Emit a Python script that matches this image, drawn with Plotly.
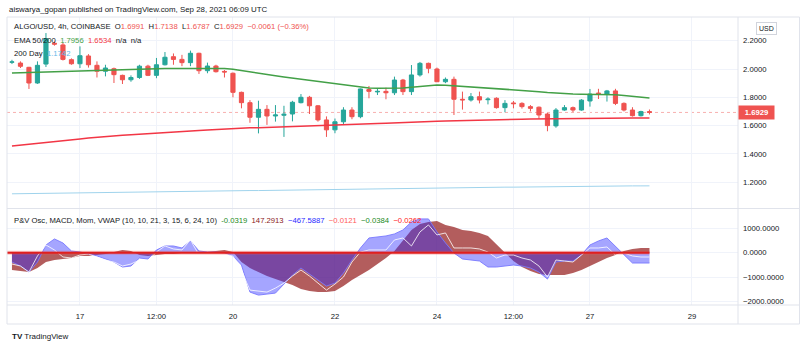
import plotly.graph_objects as go
import pandas as pd

# ---------------- data ----------------
DATES = pd.date_range("2021-09-15 16:00", periods=76, freq="4h")

OPEN = [2.048, 2.042, 2.012, 1.901, 2.035, 2.182, 2.170, 2.066, 2.037, 2.092,
        2.026, 1.984, 2.002, 1.955, 1.924, 1.940, 2.020, 1.955, 2.030, 2.087,
        2.068, 2.045, 2.111, 1.988, 2.021, 1.983, 1.970, 1.835, 1.762, 1.659,
        1.715, 1.668, 1.673, 1.682, 1.762, 1.800, 1.740, 1.640, 1.570, 1.627,
        1.710, 1.663, 1.855, 1.838, 1.842, 1.832, 1.922, 1.840, 1.958, 2.040,
        2.000, 1.910, 1.927, 1.786, 1.781, 1.804, 1.783, 1.793, 1.727, 1.760,
        1.757, 1.734, 1.730, 1.682, 1.598, 1.710, 1.727, 1.710, 1.774, 1.830,
        1.823, 1.845, 1.757, 1.710, 1.670, 1.6991]
HIGH = [2.065, 2.054, 2.015, 2.054, 2.254, 2.195, 2.185, 2.075, 2.160, 2.105,
        2.054, 2.030, 2.010, 1.960, 1.955, 2.030, 2.030, 2.078, 2.120, 2.110,
        2.100, 2.130, 2.115, 2.045, 2.030, 1.993, 1.975, 1.840, 1.780, 1.776,
        1.745, 1.745, 1.740, 1.775, 1.823, 1.810, 1.745, 1.665, 1.650, 1.730,
        1.730, 1.862, 1.880, 1.863, 1.868, 1.946, 1.930, 2.028, 2.050, 2.045,
        2.010, 1.940, 1.946, 1.840, 1.830, 1.840, 1.800, 1.800, 1.780, 1.774,
        1.765, 1.745, 1.735, 1.690, 1.724, 1.745, 1.735, 1.787, 1.859, 1.860,
        1.852, 1.860, 1.764, 1.730, 1.705, 1.7138]
LOW = [2.035, 2.007, 1.859, 1.895, 2.014, 2.165, 2.060, 2.030, 2.007, 2.010,
       1.940, 1.948, 1.901, 1.894, 1.910, 1.930, 1.950, 1.935, 2.025, 2.030,
       2.020, 2.020, 1.965, 1.970, 1.975, 1.940, 1.800, 1.722, 1.620, 1.545,
       1.605, 1.628, 1.520, 1.630, 1.757, 1.682, 1.628, 1.520, 1.546, 1.604,
       1.645, 1.652, 1.793, 1.816, 1.786, 1.816, 1.816, 1.816, 1.946, 1.970,
       1.908, 1.900, 1.675, 1.713, 1.770, 1.757, 1.750, 1.720, 1.694, 1.722,
       1.720, 1.700, 1.647, 1.560, 1.585, 1.705, 1.695, 1.705, 1.734, 1.788,
       1.770, 1.745, 1.700, 1.664, 1.664, 1.6787]
CLOSE = [2.050, 2.019, 1.901, 2.026, 2.215, 2.176, 2.068, 2.037, 2.094, 2.030,
         1.984, 2.007, 1.960, 1.924, 1.940, 2.020, 1.955, 2.030, 2.083, 2.068,
         2.045, 2.111, 1.988, 2.021, 1.981, 1.979, 1.835, 1.762, 1.659, 1.715,
         1.668, 1.675, 1.680, 1.765, 1.800, 1.740, 1.640, 1.570, 1.627, 1.710,
         1.663, 1.859, 1.842, 1.842, 1.832, 1.922, 1.840, 1.958, 2.040, 2.005,
         1.910, 1.927, 1.786, 1.782, 1.804, 1.781, 1.787, 1.727, 1.757, 1.755,
         1.734, 1.722, 1.675, 1.600, 1.710, 1.727, 1.710, 1.780, 1.823, 1.826,
         1.845, 1.757, 1.710, 1.670, 1.699, 1.6929]

EMA50 = [1.972, 1.974, 1.976, 1.978, 1.980, 1.982, 1.984, 1.986, 1.988, 1.990,
         1.992, 1.994, 1.995, 1.997, 1.998, 2.000, 2.001, 2.002, 2.003, 2.004,
         2.004, 2.005, 2.005, 2.005, 2.005, 2.004, 1.998, 1.990, 1.980, 1.971,
         1.962, 1.953, 1.944, 1.936, 1.929, 1.921, 1.912, 1.902, 1.893, 1.885,
         1.877, 1.870, 1.866, 1.864, 1.863, 1.863, 1.866, 1.871, 1.878, 1.884,
         1.887, 1.886, 1.882, 1.878, 1.875, 1.872, 1.868, 1.863, 1.858, 1.854,
         1.849, 1.845, 1.840, 1.834, 1.829, 1.826, 1.823, 1.821, 1.821, 1.821,
         1.821, 1.818, 1.812, 1.806, 1.800, 1.7956]
EMA200 = [1.455, 1.462, 1.469, 1.476, 1.482, 1.488, 1.494, 1.500, 1.506, 1.512,
          1.518, 1.523, 1.528, 1.532, 1.536, 1.539, 1.542, 1.545, 1.548, 1.552,
          1.556, 1.560, 1.565, 1.569, 1.573, 1.577, 1.580, 1.582, 1.584, 1.585,
          1.587, 1.588, 1.589, 1.591, 1.592, 1.594, 1.595, 1.597, 1.599, 1.602,
          1.605, 1.608, 1.611, 1.614, 1.617, 1.620, 1.622, 1.624, 1.626, 1.628,
          1.630, 1.632, 1.634, 1.636, 1.637, 1.638, 1.640, 1.641, 1.642, 1.643,
          1.645, 1.646, 1.647, 1.648, 1.649, 1.650, 1.650, 1.651, 1.651, 1.652,
          1.652, 1.652, 1.653, 1.653, 1.653, 1.6534]
DAY200 = [1.118, 1.119, 1.120, 1.121, 1.121, 1.122, 1.123, 1.124, 1.125, 1.125,
          1.126, 1.127, 1.128, 1.129, 1.129, 1.130, 1.131, 1.132, 1.133, 1.133,
          1.134, 1.135, 1.136, 1.137, 1.137, 1.138, 1.139, 1.140, 1.141, 1.141,
          1.142, 1.143, 1.144, 1.145, 1.145, 1.146, 1.147, 1.148, 1.149, 1.149,
          1.150, 1.151, 1.152, 1.153, 1.153, 1.154, 1.155, 1.156, 1.157, 1.157,
          1.158, 1.159, 1.160, 1.161, 1.161, 1.162, 1.163, 1.164, 1.165, 1.165,
          1.166, 1.167, 1.168, 1.169, 1.169, 1.170, 1.171, 1.171, 1.172, 1.172,
          1.173, 1.173, 1.173, 1.174, 1.174, 1.1742]

# oscillator pane series
OSC_BLUE = [-380, -545, -790, -380, 315, 562, 398, 70, 30, -53,
            -135, -258, -381, -586, -545, -217, -258, 111, 275, 275,
            193, 480, 70, 29, 29, -12, -135, -504, -1611, -1734,
            -1693, -1652, -1283, -914, -627, -873, -1119, -1365, -1242, -832,
            -299, 193, 603, 644, 685, 767, 931, 1259, 1382, 1382,
            849, 398, -12, -258, -299, -340, -586, -586, -545, -504,
            -545, -627, -791, -1078, -381, -340, -340, -94, 316, 480,
            603, 275, -94, -422, -422, -422]
OSC_BROWN = [-709, -750, -791, -627, -381, -299, -258, -217, -135, -135,
             -94, -53, 29, 111, 70, -94, -135, -94, -53, -53,
             -12, 29, -12, 29, 70, 111, 29, -381, -627, -791,
             -955, -1078, -1201, -1324, -1488, -1570, -1611, -1611, -1570, -1365,
             -1119, -914, -709, -463, -217, 70, 521, 931, 1177, 1259,
             1300, 1136, 1054, 931, 890, 808, 685, 357, -12, -340,
             -586, -750, -873, -914, -914, -914, -832, -709, -545, -381,
             -217, -94, 70, 152, 193, 193]
OSC_WHITE = [-463, -545, -791, -135, 316, 111, -176, -217, -94, -53,
             -176, -299, -381, -545, -463, -299, -340, 29, 275, 152,
             111, 521, -94, -12, -53, -53, -135, -709, -1529, -1570,
             -1611, -1447, -1242, -955, -709, -955, -1242, -1529, -1283, -996,
             -381, 29, 111, 111, 111, 521, 603, 275, 849, 1136,
             726, 808, 193, 193, 193, 152, 29, -217, -94, -94,
             -217, -299, -545, -996, -299, -340, -381, -94, 193, 193,
             234, -94, -12, -135, -176, -176]

LAST_PRICE = 1.6929
PRICE_TICKS = [1.2, 1.4, 1.6, 1.8, 2.0, 2.2]
OSC_TICKS = [1000, 0, -1000, -2000]
TIME_TICKS = ["2021-09-17 00:00", "2021-09-18 12:00", "2021-09-20 00:00", "2021-09-22 00:00",
              "2021-09-24 00:00", "2021-09-25 12:00", "2021-09-27 00:00", "2021-09-29 00:00"]
TIME_LABELS = ["17", "12:00", "20", "22", "24", "12:00", "27", "29"]

# ---------------- figure ----------------
W, H = 800, 348
ML, MR, MT, MB = 7, 62, 17, 43
PW = W - ML - MR
PH = H - MT - MB
FONT = "Liberation Sans"
TXT = "#131722"
GRID = "#f0f3fa"
BORDER = "#e0e3eb"


def px(x):
    return (x - ML) / PW


def py(y):
    return (H - MB - y) / PH


fig = go.Figure()

fig.add_trace(go.Candlestick(
    x=DATES, open=OPEN, high=HIGH, low=LOW, close=CLOSE,
    increasing=dict(line=dict(color="#26a69a", width=1), fillcolor="#26a69a"),
    decreasing=dict(line=dict(color="#ef5350", width=1), fillcolor="#ef5350"),
    whiskerwidth=0, showlegend=False, hoverinfo="skip", xaxis="x", yaxis="y"))

fig.add_trace(go.Scatter(x=DATES, y=DAY200, mode="lines",
                         line=dict(color="#9fd3ec", width=1), showlegend=False,
                         xaxis="x", yaxis="y", hoverinfo="skip"))
fig.add_trace(go.Scatter(x=DATES, y=EMA200, mode="lines",
                         line=dict(color="#f23645", width=1.5), showlegend=False,
                         xaxis="x", yaxis="y", hoverinfo="skip"))
fig.add_trace(go.Scatter(x=DATES, y=EMA50, mode="lines",
                         line=dict(color="#43a047", width=1.5), showlegend=False,
                         xaxis="x", yaxis="y", hoverinfo="skip"))

# oscillator
fig.add_trace(go.Scatter(x=DATES, y=OSC_BROWN, mode="lines", fill="tozeroy",
                         fillcolor="rgba(150,30,30,0.72)",
                         line=dict(color="rgba(150,30,30,0.0)", width=0),
                         showlegend=False, xaxis="x", yaxis="y2", hoverinfo="skip"))
fig.add_trace(go.Scatter(x=DATES, y=OSC_BLUE, mode="lines", fill="tozeroy",
                         fillcolor="rgba(40,40,255,0.42)",
                         line=dict(color="rgba(120,120,255,0.9)", width=1),
                         showlegend=False, xaxis="x", yaxis="y2", hoverinfo="skip"))
fig.add_trace(go.Scatter(x=DATES, y=OSC_WHITE, mode="lines",
                         line=dict(color="rgba(255,255,255,0.8)", width=1),
                         showlegend=False, xaxis="x", yaxis="y2", hoverinfo="skip"))

x_start = "2021-09-15 13:40"
x_end = "2021-09-29 21:40"

shapes = []
# zero line of oscillator
shapes.append(dict(type="line", xref="x", yref="y2", x0=x_start, x1=DATES[-1],
                   y0=0, y1=0, line=dict(color="rgba(239,83,80,0.3)", width=4), layer="above"))
shapes.append(dict(type="line", xref="x", yref="y2", x0=x_start, x1=DATES[-1],
                   y0=0, y1=0, line=dict(color="#e01f1f", width=2), layer="above"))
# last price line
shapes.append(dict(type="line", xref="paper", yref="y", x0=0, x1=1,
                   y0=LAST_PRICE, y1=LAST_PRICE,
                   line=dict(color="rgba(239,83,80,0.45)", width=1, dash="dot"), layer="below"))
# frame lines
bl = dict(color=BORDER, width=1)
shapes += [
    dict(type="line", xref="paper", yref="paper", x0=0, x1=px(799.5), y0=py(17), y1=py(17), line=bl),
    dict(type="line", xref="paper", yref="paper", x0=0, x1=px(799.5), y0=py(208.5), y1=py(208.5), line=bl),
    dict(type="line", xref="paper", yref="paper", x0=0, x1=px(799.5), y0=py(305), y1=py(305), line=bl),
    dict(type="line", xref="paper", yref="paper", x0=0, x1=px(799.5), y0=py(324), y1=py(324), line=bl),
    dict(type="line", xref="paper", yref="paper", x0=0, x1=0, y0=py(17), y1=py(324), line=bl),
    dict(type="line", xref="paper", yref="paper", x0=1, x1=1, y0=py(17), y1=py(324), line=bl),
    dict(type="line", xref="paper", yref="paper", x0=px(799.5), x1=px(799.5), y0=py(17), y1=py(324), line=bl),
]

ann = []
fs = 7.7
ann.append(dict(xref="paper", yref="paper", x=px(7), y=py(9), xanchor="left", yanchor="middle",
                text="aiswarya_gopan published on TradingView.com, Sep 28, 2021 06:09 UTC",
                showarrow=False, font=dict(family=FONT, size=7.9, color=TXT)))
R = "#ef5350"
ann.append(dict(xref="paper", yref="paper", x=px(12), y=py(27), xanchor="left", yanchor="middle",
                text=("ALGO/USD, 4h, COINBASE&nbsp;&nbsp;O<span style='color:%s'>1.6991</span>&nbsp;&nbsp;"
                      "H<span style='color:%s'>1.7138</span>&nbsp;&nbsp;L<span style='color:%s'>1.6787</span>&nbsp;&nbsp;"
                      "C<span style='color:%s'>1.6929</span>&nbsp;&nbsp;<span style='color:%s'>−0.0061 (−0.36%%)</span>")
                % (R, R, R, R, R),
                showarrow=False, font=dict(family=FONT, size=fs, color=TXT)))
ann.append(dict(xref="paper", yref="paper", x=px(12), y=py(40), xanchor="left", yanchor="middle",
                text=("EMA 50/200&nbsp;&nbsp;<span style='color:#43a047'>1.7956</span>&nbsp;&nbsp;"
                      "<span style='color:#f23645'>1.6534</span>&nbsp;&nbsp;n/a&nbsp;&nbsp;n/a"),
                showarrow=False, font=dict(family=FONT, size=fs, color=TXT)))
ann.append(dict(xref="paper", yref="paper", x=px(12), y=py(53), xanchor="left", yanchor="middle",
                text="200 Day&nbsp;&nbsp;<span style='color:#5fb8e8'>1.1742</span>",
                showarrow=False, font=dict(family=FONT, size=fs, color=TXT)))
ann.append(dict(xref="paper", yref="paper", x=px(12), y=py(220), xanchor="left", yanchor="middle",
                text=("P&amp;V Osc, MACD, Mom, VWAP (10, 10, 21, 3, 15, 6, 24, 10)&nbsp;&nbsp;"
                      "<span style='color:#1b8a1b'>-0.0319</span>&nbsp;&nbsp;"
                      "<span style='color:#8b1a1a'>147.2913</span>&nbsp;&nbsp;"
                      "<span style='color:#2a2aff'>−467.5887</span>&nbsp;&nbsp;"
                      "<span style='color:#ff5a5a'>−0.0121</span>&nbsp;&nbsp;"
                      "<span style='color:#1b8a1b'>−0.0384</span>&nbsp;&nbsp;"
                      "<span style='color:#ff2020'>−0.0262</span>"),
                showarrow=False, font=dict(family=FONT, size=fs, color=TXT)))
# USD box
ann.append(dict(xref="paper", yref="paper", x=px(766.5), y=py(29), xanchor="center", yanchor="middle",
                text="USD", showarrow=False, font=dict(family=FONT, size=7, color=TXT),
                bordercolor="#d1d4dc", borderwidth=1, borderpad=2, bgcolor="white"))
# last price label
ann.append(dict(xref="paper", yref="y", x=1.0, y=LAST_PRICE, xanchor="left", yanchor="middle",
                text="<b>1.6929</b>", showarrow=False, font=dict(family=FONT, size=fs, color="white"),
                bgcolor="#ef5350", borderpad=2, width=31))
# TradingView logo
ann.append(dict(xref="paper", yref="paper", x=px(10), y=py(336), xanchor="left", yanchor="middle",
                text="<b>TV</b> TradingView", showarrow=False,
                font=dict(family=FONT, size=8, color=TXT)))

fig.update_layout(
    width=W, height=H, margin=dict(l=ML, r=MR, t=MT, b=MB),
    paper_bgcolor="white", plot_bgcolor="white", showlegend=False,
    font=dict(family=FONT, size=fs, color=TXT),
    shapes=shapes, annotations=ann,
    xaxis=dict(type="date", range=[x_start, x_end], anchor="y2",
               tickvals=TIME_TICKS, ticktext=TIME_LABELS, showgrid=True, gridcolor=GRID,
               gridwidth=1, zeroline=False, showline=False, ticks="",
               rangeslider=dict(visible=False), tickfont=dict(size=fs, color=TXT),
               ticklabelstandoff=5),
    yaxis=dict(domain=[py(208.5), py(17)], range=[2.0 - (208.5 - 69) / 141.5, 2.0 + (69 - 17) / 141.5],
               side="right", anchor="x", tickvals=PRICE_TICKS, tickformat=".4f",
               showgrid=True, gridcolor=GRID, zeroline=False, showline=False, ticks="",
               ticklabelstandoff=4, tickfont=dict(size=fs, color=TXT)),
    yaxis2=dict(domain=[0, py(209)], range=[-(305 - 252.7) / 24.45 * 1000, (252.7 - 209) / 24.45 * 1000],
                side="right", anchor="x", tickvals=OSC_TICKS, tickformat=".4f",
                showgrid=True, gridcolor=GRID, zeroline=False, showline=False, ticks="",
                ticklabelstandoff=4, tickfont=dict(size=fs, color=TXT)),
)

fig.write_html("out.html")
